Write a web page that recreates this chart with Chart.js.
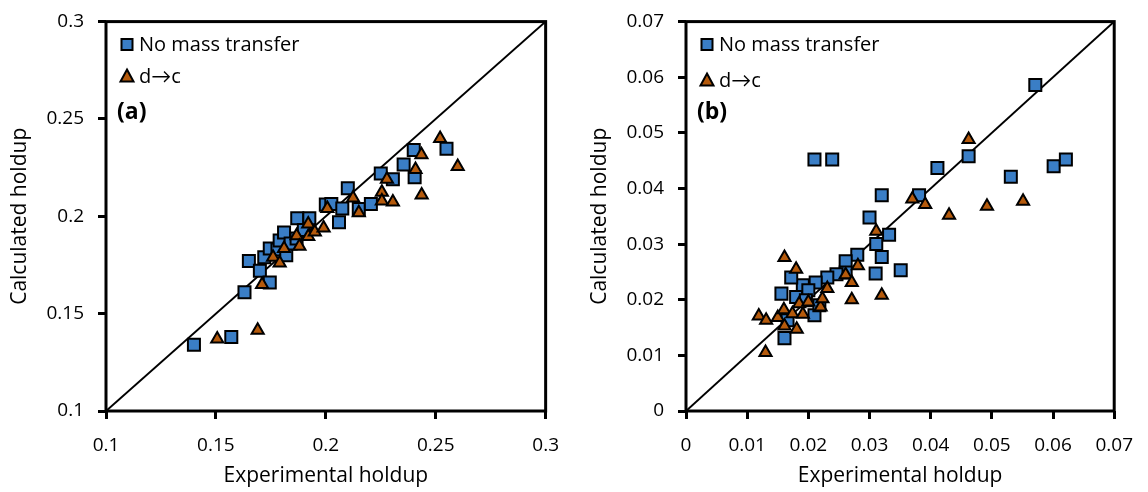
<!DOCTYPE html>
<html>
<head>
<meta charset="utf-8">
<script src="https://cdn.jsdelivr.net/npm/chart.js@4/dist/chart.umd.min.js"></script>
<style>
  html, body { margin: 0; padding: 0; background: #fff; }
  #wrap { position: relative; width: 1148px; height: 492px; }
  .panel { position: absolute; top: 0; width: 574px; height: 492px; }
  canvas { display: block; }
</style>
</head>
<body>
<div id="wrap">
  <div class="panel" style="left:0"><canvas id="chartA" width="574" height="492"></canvas></div>
  <div class="panel" style="left:574px"><canvas id="chartB" width="574" height="492"></canvas></div>
</div>
<script>
// ---- Panel (a) ----
const aNoMassX = [0.140, 0.157, 0.163, 0.165, 0.170, 0.172, 0.1745, 0.1745, 0.178, 0.179, 0.181, 0.182, 0.184, 0.1867, 0.187, 0.190, 0.1925, 0.200, 0.2025, 0.206, 0.2075, 0.210, 0.215, 0.2205, 0.225, 0.2305, 0.2354, 0.240, 0.2404, 0.2549];
const aNoMassY = [0.134, 0.138, 0.161, 0.177, 0.172, 0.179, 0.166, 0.1835, 0.183, 0.1876, 0.1917, 0.180, 0.186, 0.1886, 0.199, 0.193, 0.199, 0.206, 0.2063, 0.197, 0.204, 0.2144, 0.2037, 0.2063, 0.222, 0.219, 0.2266, 0.234, 0.220, 0.2347];
const aDtoCX = [0.1506, 0.169, 0.171, 0.176, 0.179, 0.181, 0.1867, 0.188, 0.192, 0.192, 0.195, 0.199, 0.2007, 0.2124, 0.215, 0.2255, 0.2255, 0.2278, 0.2305, 0.2408, 0.2436, 0.2435, 0.252, 0.260];
const aDtoCY = [0.137, 0.1415, 0.165, 0.179, 0.176, 0.1835, 0.190, 0.1846, 0.1896, 0.196, 0.192, 0.194, 0.204, 0.2094, 0.2018, 0.2124, 0.2078, 0.219, 0.2073, 0.224, 0.211, 0.2316, 0.240, 0.2256];
const aTicks = [0.1, 0.15, 0.2, 0.25, 0.3];
const aTickLabels = ['0.1', '0.15', '0.2', '0.25', '0.3'];

// ---- Panel (b) ----
const bNoMassX = [0.0571, 0.0462, 0.0531, 0.0601, 0.0621, 0.0210, 0.0239, 0.0411, 0.0381, 0.0320, 0.0300, 0.0332, 0.0311, 0.0320, 0.0310, 0.0351, 0.0280, 0.0261, 0.0261, 0.0246, 0.0231, 0.0212, 0.0191, 0.0172, 0.0156, 0.0180, 0.0200, 0.0196, 0.0210, 0.0161, 0.0218, 0.0166];
const bNoMassY = [0.0586, 0.0458, 0.0421, 0.0440, 0.0452, 0.0452, 0.0452, 0.0437, 0.0388, 0.0388, 0.0348, 0.0317, 0.0300, 0.0277, 0.0247, 0.0253, 0.0281, 0.0269, 0.0249, 0.0246, 0.0240, 0.0231, 0.0226, 0.0240, 0.0211, 0.0205, 0.0217, 0.0199, 0.0172, 0.0131, 0.0190, 0.0163];
const bDtoCX = [0.0462, 0.0492, 0.0551, 0.0370, 0.0391, 0.0430, 0.0311, 0.0281, 0.0261, 0.0180, 0.0161, 0.0119, 0.0131, 0.0130, 0.0150, 0.0160, 0.0161, 0.0181, 0.0174, 0.0191, 0.0185, 0.0200, 0.0220, 0.0223, 0.0231, 0.0271, 0.0271, 0.0320];
const bDtoCY = [0.0488, 0.0368, 0.0377, 0.0381, 0.0371, 0.0352, 0.0323, 0.0261, 0.0245, 0.0255, 0.0276, 0.0171, 0.0163, 0.0105, 0.0168, 0.0182, 0.0153, 0.0147, 0.0175, 0.0174, 0.0193, 0.0196, 0.0187, 0.0202, 0.0220, 0.0231, 0.0200, 0.0208];
const bTicks = [0, 0.01, 0.02, 0.03, 0.04, 0.05, 0.06, 0.07];
const bTickLabels = ['0', '0.01', '0.02', '0.03', '0.04', '0.05', '0.06', '0.07'];

const seriesNames = ['No mass transfer', 'd\u2192c'];
const BLUE = '#3a7ec6';
const BROWN = '#b55a0c';
const FONT = '"Open Sans", Lato, sans-serif';

function pairs(xs, ys) { return xs.map((x, i) => ({ x: x, y: ys[i] })); }

// Frame around the plot area
const framePlugin = {
  id: 'frame',
  afterDraw(chart) {
    const { ctx, chartArea: a } = chart;
    ctx.save();
    ctx.strokeStyle = '#000';
    ctx.lineWidth = 3;
    ctx.strokeRect(a.left, a.top, a.right - a.left, a.bottom - a.top);
    ctx.restore();
  }
};

// In-plot legend and panel tag
const insetPlugin = {
  id: 'inset',
  afterDraw(chart, args, opts) {
    const { ctx, chartArea: a } = chart;
    ctx.save();
    const mx = a.left + 21;
    // square marker
    let y = a.top + opts.row1;
    ctx.fillStyle = BLUE; ctx.strokeStyle = '#000'; ctx.lineWidth = 2;
    ctx.beginPath(); ctx.rect(mx - 5.5, y - 5.5, 11, 11); ctx.fill(); ctx.stroke();
    ctx.fillStyle = '#000';
    ctx.font = '20px ' + FONT;
    ctx.textBaseline = 'middle';
    ctx.textAlign = 'left';
    ctx.fillText(seriesNames[0], a.left + 33, y + 1);
    // triangle marker
    y = a.top + opts.row2;
    ctx.fillStyle = BROWN;
    ctx.beginPath();
    ctx.moveTo(mx, y - 7); ctx.lineTo(mx + 6.5, y + 5); ctx.lineTo(mx - 6.5, y + 5); ctx.closePath();
    ctx.fill(); ctx.stroke();
    ctx.fillStyle = '#000';
    ctx.fillText(seriesNames[1], a.left + 33, y + 1);
    // panel tag
    ctx.font = 'bold 23px ' + FONT;
    ctx.fillText(opts.tag, a.left + 11, a.top + 91);
    ctx.restore();
  }
};

function makeChart(id, cfg) {
  const lo = cfg.ticks[0], hi = cfg.ticks[cfg.ticks.length - 1];
  const axisCommon = (labels, ticks) => ({
    type: 'linear',
    min: lo, max: hi,
    afterBuildTicks(scale) { scale.ticks = ticks.map(v => ({ value: v })); },
    grid: { drawOnChartArea: false, drawTicks: true, tickLength: 8, color: '#000', lineWidth: 3 },
    border: { display: false },
    ticks: {
      color: '#000',
      font: { family: FONT, size: 19 },
      autoSkip: false,
      maxRotation: 0,
      callback: (v, i) => labels[i]
    }
  });
  const xAxis = axisCommon(cfg.labels, cfg.ticks);
  xAxis.position = 'bottom';
  xAxis.ticks.padding = 15;
  xAxis.title = { display: true, text: 'Experimental holdup', color: '#000', font: { family: FONT, size: 21 }, padding: { top: 0, bottom: 3 } };
  xAxis.afterFit = s => { s.height = 81; };
  const yAxis = axisCommon(cfg.labels, cfg.ticks);
  yAxis.position = 'left';
  yAxis.ticks.padding = 14;
  yAxis.ticks.font = { family: FONT, size: 19, lineHeight: 0.8 };
  yAxis.title = { display: true, text: 'Calculated holdup', color: '#000', font: { family: FONT, size: 21 }, padding: { top: cfg.titlePad, bottom: 0 } };
  yAxis.afterFit = s => { s.width = cfg.yWidth; };

  return new Chart(document.getElementById(id), {
    type: 'scatter',
    data: {
      datasets: [
        {
          label: seriesNames[1],
          data: pairs(cfg.dcX, cfg.dcY),
          pointStyle: 'triangle',
          pointRadius: 7,
          pointHoverRadius: 7,
          backgroundColor: BROWN,
          borderColor: '#000',
          borderWidth: 2
        },
        {
          label: seriesNames[0],
          data: pairs(cfg.nmX, cfg.nmY),
          pointStyle: 'rect',
          pointRadius: 8.5,
          pointHoverRadius: 8.5,
          backgroundColor: BLUE,
          borderColor: '#000',
          borderWidth: 2
        },
        {
          label: 'parity',
          type: 'line',
          data: [{ x: lo, y: lo }, { x: hi, y: hi }],
          borderColor: '#000',
          borderWidth: 2,
          pointRadius: 0,
          fill: false
        }
      ]
    },
    options: {
      responsive: false,
      animation: false,
      devicePixelRatio: 1,
      layout: { padding: { left: 0, right: cfg.padRight, top: 17, bottom: 0 } },
      scales: { x: xAxis, y: yAxis },
      plugins: {
        legend: { display: false },
        tooltip: { enabled: false },
        inset: { tag: cfg.tag, row1: cfg.row1, row2: cfg.row2 }
      }
    },
    plugins: [framePlugin, insetPlugin]
  });
}

makeChart('chartA', {
  ticks: aTicks, labels: aTickLabels,
  nmX: aNoMassX, nmY: aNoMassY, dcX: aDtoCX, dcY: aDtoCY,
  yWidth: 106, padRight: 26, titlePad: 7, tag: '(a)', row1: 23, row2: 55
});
makeChart('chartB', {
  ticks: bTicks, labels: bTickLabels,
  nmX: bNoMassX, nmY: bNoMassY, dcX: bDtoCX, dcY: bDtoCY,
  yWidth: 112, padRight: 27, titlePad: 13, tag: '(b)', row1: 23, row2: 59
});
</script>
</body>
</html>
